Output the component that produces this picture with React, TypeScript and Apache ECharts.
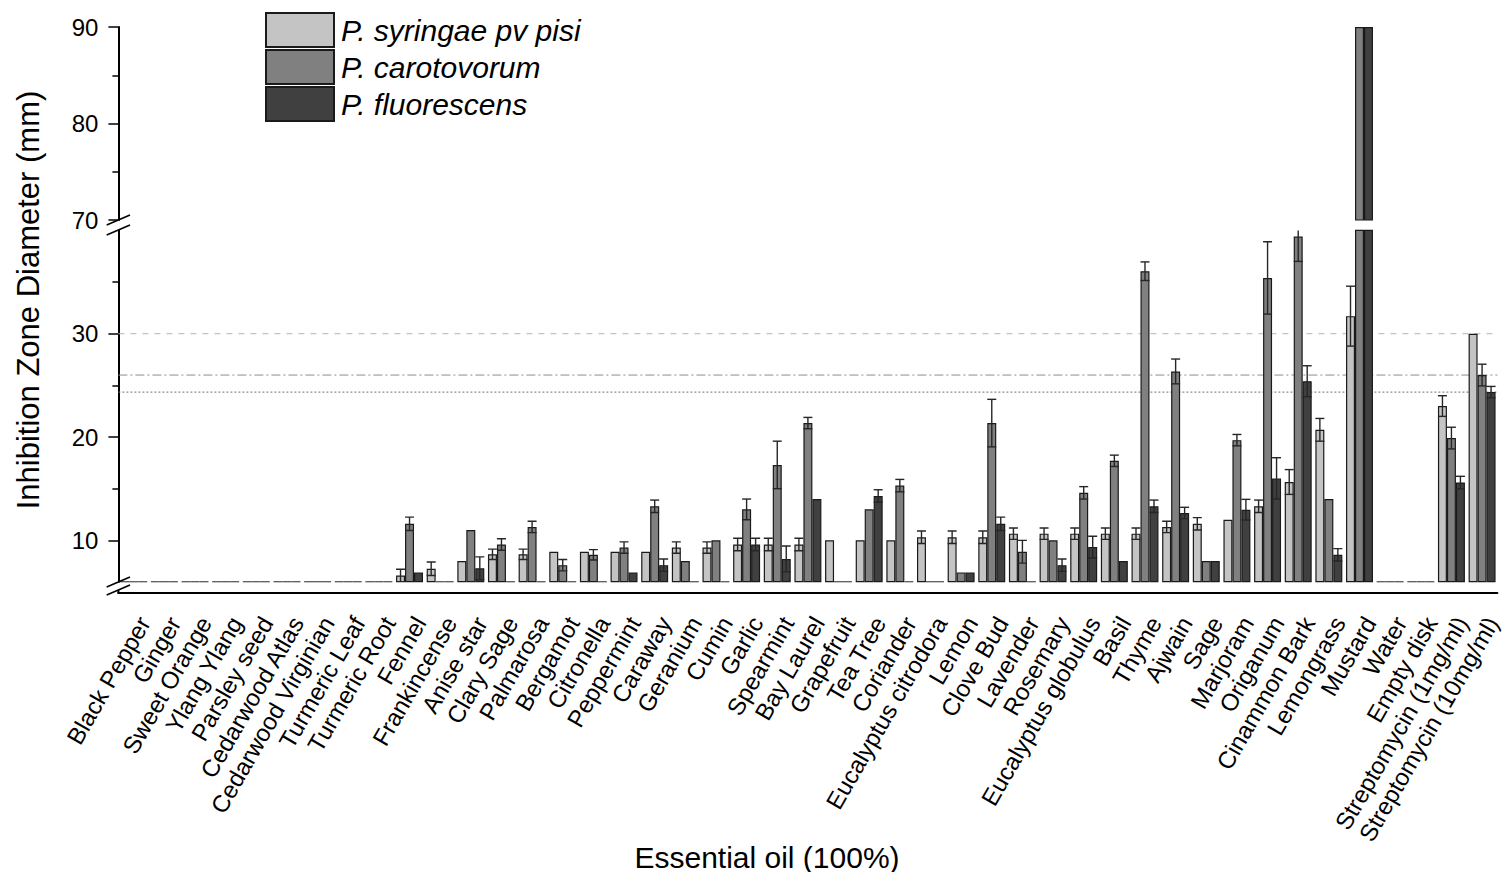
import React, { useEffect, useRef } from 'react';
import * as echarts from 'echarts';

const FONT = '"Liberation Sans", Arial, Helvetica, sans-serif';

const OILS = [
  'Black Pepper', 'Ginger', 'Sweet Orange', 'Ylang Ylang', 'Parsley seed',
  'Cedarwood Atlas', 'Cedarwood Virginian', 'Turmeric Leaf', 'Turmeric Root', 'Fennel',
  'Frankincense', 'Anise star', 'Clary Sage', 'Palmarosa', 'Bergamot',
  'Citronella', 'Peppermint', 'Caraway', 'Geranium', 'Cumin',
  'Garlic', 'Spearmint', 'Bay Laurel', 'Grapefruit', 'Tea Tree',
  'Coriander', 'Eucalyptus citrodora', 'Lemon', 'Clove Bud', 'Lavender',
  'Rosemary', 'Eucalyptus globulus', 'Basil', 'Thyme', 'Ajwain',
  'Sage', 'Marjoram', 'Origanum', 'Cinammon Bark', 'Lemongrass',
  'Mustard', 'Water', 'Empty disk', 'Streptomycin (1mg/ml)', 'Streptomycin (10mg/ml)',
];

const SPECIES = ['P. syringae pv pisi', 'P. carotovorum', 'P. fluorescens'];
const COLORS = ['#c4c4c4', '#808080', '#404040'];

// Mean inhibition zone diameters (mm); 6 mm = disk only, no inhibition
const PISI_MEAN = [
  6, 6, 6, 6, 6, 6, 6, 6, 6, 6.6,
  7.25, 8.0, 8.65, 8.65, 8.9, 8.9, 8.9, 8.9, 9.3, 9.3,
  9.6, 9.6, 9.6, 10.0, 10.0, 10.0, 10.3, 10.3, 10.3, 10.65,
  10.65, 10.65, 10.65, 10.65, 11.3, 11.6, 12.0, 13.3, 15.65, 20.7,
  31.7, 6, 6, 23.0, 30.0,
];
const PISI_SD = [
  0, 0, 0, 0, 0, 0, 0, 0, 0, 0.6,
  0.65, 0, 0.5, 0.5, 0, 0, 0, 0, 0.55, 0.55,
  0.6, 0.6, 0.6, 0, 0, 0, 0.6, 0.6, 0.6, 0.55,
  0.55, 0.55, 0.55, 0.55, 0.55, 0.6, 0, 0.6, 1.2, 1.1,
  2.9, 0, 0, 1.0, 0,
];
const CARO_MEAN = [
  6, 6, 6, 6, 6, 6, 6, 6, 6, 11.6,
  6, 11.0, 9.6, 11.3, 7.6, 8.6, 9.3, 13.3, 8.0, 10.0,
  13.0, 17.3, 21.35, 6, 13.0, 15.3, 6, 6.9, 21.35, 8.9,
  10.0, 14.6, 17.7, 36.05, 26.35, 8.0, 19.7, 35.4, 39.4, 14.0,
  90, 6, 6, 19.9, 26.0,
];
const CARO_SD = [
  0, 0, 0, 0, 0, 0, 0, 0, 0, 0.65,
  0, 0, 0.55, 0.55, 0.55, 0.5, 0.55, 0.6, 0, 0,
  1.0, 2.3, 0.55, 0, 0, 0.6, 0, 0, 2.3, 1.1,
  0, 0.6, 0.55, 0.9, 1.2, 0, 0.55, 3.5, 2.4, 0,
  0, 0, 0, 1.05, 1.05,
];
const FLUO_MEAN = [
  6, 6, 6, 6, 6, 6, 6, 6, 6, 6.9,
  6, 7.3, 6, 6, 6, 6, 6.9, 7.6, 6, 6,
  9.6, 8.2, 14.0, 6, 14.3, 6, 6, 6.9, 11.6, 6,
  7.6, 9.35, 8.0, 13.3, 12.65, 8.0, 12.97, 16.0, 25.4, 8.6,
  90, 6, 6, 15.6, 24.35,
];
const FLUO_SD = [
  0, 0, 0, 0, 0, 0, 0, 0, 0, 0,
  0, 1.1, 0, 0, 0, 0, 0, 0.6, 0, 0,
  0.6, 1.25, 0, 0, 0.6, 0, 0, 0, 0.65, 0,
  0.6, 1.05, 0, 0.6, 0.55, 0, 1.0, 2.0, 1.5, 0.6,
  0, 0, 0, 0.6, 0.55,
];

const MEANS = [PISI_MEAN, CARO_MEAN, FLUO_MEAN];
const SDS = [PISI_SD, CARO_SD, FLUO_SD];

// Broken value axis: lower segment and upper segment
const LOWER_MIN = 6;
const LOWER_MAX = 40;
const UPPER_MIN = 70;
const UPPER_MAX = 90;
const LOWER_MAJOR = [10, 20, 30];
const LOWER_MINOR = [15, 25, 35];

// Reference lines at the Streptomycin (10mg/ml) zones
const REF_INDEX = OILS.length - 1;
const REF_DASH = [[6, 6], [9, 3, 2, 3], [2, 2]];
const REF_COLORS = ['#b4b4b4', '#8c8c8c', '#6e6e6e'];

const CAT_GAP = 0.12;
const GRID_LEFT = 118.4;
const GRID_WIDTH = 1379;

function slotGeometry(api: any, i: number, m: number, k: number) {
  const band = api.size([1, 0])[0];
  const bw = (band * (1 - CAT_GAP)) / 3;
  const cx = api.coord([i, m])[0] + (k - 1) * bw;
  return { bw, cx };
}

function buildOption() {
  const barBase = {
    type: 'bar',
    barGap: '0%',
    barCategoryGap: `${CAT_GAP * 100}%`,
    z: 2,
    clip: true,
  };

  const lowerBars = SPECIES.map((name, k) => ({
    ...barBase,
    name,
    xAxisIndex: 1,
    yAxisIndex: 1,
    data: MEANS[k],
    itemStyle: { color: COLORS[k], borderColor: '#1a1a1a', borderWidth: 1.2 },
  }));

  const upperBars = SPECIES.map((name, k) => ({
    ...barBase,
    name,
    xAxisIndex: 0,
    yAxisIndex: 0,
    data: MEANS[k].map((v) => (v > UPPER_MIN ? v : '-')),
    itemStyle: { color: COLORS[k], borderColor: '#1a1a1a', borderWidth: 1.2 },
  }));

  // Disk-only results (no inhibition) show as a flat mark on the baseline
  const baseMarks = SPECIES.map((name, k) => ({
    type: 'custom',
    name: `${name} base`,
    xAxisIndex: 1,
    yAxisIndex: 1,
    z: 4,
    encode: { x: 0, y: 1 },
    data: MEANS[k].map((m, i) => [i, m]).filter((d) => d[1] <= LOWER_MIN),
    renderItem: (params: any, api: any) => {
      const i = api.value(0);
      const m = api.value(1);
      const { bw, cx } = slotGeometry(api, i, m, k);
      const y = api.coord([i, m])[1];
      return {
        type: 'line',
        shape: { x1: cx - bw / 2, y1: y, x2: cx + bw / 2, y2: y },
        style: { stroke: '#5a5a5a', lineWidth: 1.3, fill: null },
      };
    },
  }));

  const errorBars = SPECIES.map((name, k) => ({
    type: 'custom',
    name: `${name} SD`,
    xAxisIndex: 1,
    yAxisIndex: 1,
    z: 5,
    clip: true,
    encode: { x: 0, y: 1 },
    data: MEANS[k]
      .map((m, i) => [i, m, SDS[k][i]])
      .filter((d) => d[2] > 0),
    renderItem: (params: any, api: any) => {
      const i = api.value(0);
      const m = api.value(1);
      const sd = api.value(2);
      const { bw, cx } = slotGeometry(api, i, m, k);
      const yHi = api.coord([i, m + sd])[1];
      const yLo = api.coord([i, Math.max(m - sd, LOWER_MIN)])[1];
      const half = bw / 2;
      const style = { stroke: '#262626', lineWidth: 1.4, fill: null };
      return {
        type: 'group',
        children: [
          { type: 'line', shape: { x1: cx, y1: yHi, x2: cx, y2: yLo }, style },
          { type: 'line', shape: { x1: cx - half, y1: yHi, x2: cx + half, y2: yHi }, style },
          { type: 'line', shape: { x1: cx - half, y1: yLo, x2: cx + half, y2: yLo }, style },
        ],
      };
    },
  }));

  const refLines = {
    type: 'custom',
    name: 'reference',
    xAxisIndex: 1,
    yAxisIndex: 1,
    z: 1,
    encode: { x: 0, y: 1 },
    data: MEANS.map((arr, k) => [0, arr[REF_INDEX], k]),
    renderItem: (params: any, api: any) => {
      const cs = params.coordSys;
      const y = api.coord([0, api.value(1)])[1];
      const k = api.value(2);
      return {
        type: 'line',
        shape: { x1: cs.x, y1: y, x2: cs.x + cs.width, y2: y },
        style: { stroke: REF_COLORS[k], lineWidth: 1, lineDash: REF_DASH[k], fill: null },
      };
    },
  };

  const axisLineStyle = { color: '#000', width: 2 };
  const tickLabel = { color: '#000', fontSize: 24, fontFamily: FONT };

  const brk = (x1: number, y1: number, x2: number, y2: number) => ({
    type: 'line',
    shape: { x1, y1, x2, y2 },
    style: { stroke: '#000', lineWidth: 1.6 },
    z: 10,
  });

  return {
    animation: false,
    backgroundColor: '#fff',
    textStyle: { fontFamily: FONT },
    legend: {
      data: SPECIES,
      orient: 'vertical',
      left: 260,
      top: 7,
      itemWidth: 68,
      itemHeight: 34,
      itemGap: 1,
      icon: 'rect',
      textStyle: {
        color: '#000',
        fontSize: 30,
        lineHeight: 34,
        fontStyle: 'italic',
        fontFamily: FONT,
        padding: [0, 0, 0, 2],
      },
      selectedMode: false,
    },
    grid: [
      { left: GRID_LEFT, width: GRID_WIDTH, top: 27, height: 193 },
      { left: GRID_LEFT, width: GRID_WIDTH, top: 230.4, height: 351.3 },
    ],
    xAxis: [
      { type: 'category', gridIndex: 0, data: OILS, show: false },
      {
        type: 'category',
        gridIndex: 1,
        data: OILS,
        position: 'bottom',
        offset: 11,
        axisLine: { lineStyle: axisLineStyle },
        axisTick: { alignWithLabel: true, length: 8, interval: 0, lineStyle: { color: '#000', width: 1.5 } },
        axisLabel: {
          interval: 0,
          rotate: 60,
          fontSize: 24,
          color: '#000',
          fontFamily: FONT,
          margin: 20,
          verticalAlign: 'top',
        },
      },
      {
        type: 'category',
        gridIndex: 1,
        data: OILS,
        position: 'bottom',
        offset: 11,
        axisLine: { show: false },
        axisTick: { length: 8, interval: 0, lineStyle: { color: '#000', width: 1.5 } },
        axisLabel: { show: false },
      },
    ],
    yAxis: [
      {
        type: 'value',
        gridIndex: 0,
        min: UPPER_MIN,
        max: UPPER_MAX,
        interval: 10,
        position: 'left',
        axisLine: { show: true, lineStyle: axisLineStyle },
        axisTick: { show: true, length: 10, lineStyle: { color: '#000', width: 1.5 } },
        minorTick: { show: true, splitNumber: 2, length: 6, lineStyle: { color: '#000', width: 1.5 } },
        axisLabel: { ...tickLabel, margin: 20 },
        splitLine: { show: false },
      },
      {
        type: 'value',
        gridIndex: 1,
        min: LOWER_MIN,
        max: LOWER_MAX,
        position: 'left',
        axisLine: { show: true, lineStyle: axisLineStyle },
        axisTick: { show: true, length: 10, customValues: LOWER_MAJOR, lineStyle: { color: '#000', width: 1.5 } },
        axisLabel: { ...tickLabel, margin: 20, customValues: LOWER_MAJOR },
        splitLine: { show: false },
      },
      {
        type: 'value',
        gridIndex: 1,
        min: LOWER_MIN,
        max: LOWER_MAX,
        position: 'left',
        axisLine: { show: false },
        axisTick: { show: true, length: 6, customValues: LOWER_MINOR, lineStyle: { color: '#000', width: 1.5 } },
        axisLabel: { show: false },
        splitLine: { show: false },
      },
    ],
    graphic: [
      {
        type: 'text',
        x: 28,
        y: 300,
        rotation: Math.PI / 2,
        style: {
          text: 'Inhibition Zone Diameter (mm)',
          font: `31px ${FONT}`,
          fill: '#000',
          textAlign: 'center',
          textVerticalAlign: 'middle',
        },
      },
      {
        type: 'text',
        x: 767,
        y: 857,
        style: {
          text: 'Essential oil (100%)',
          font: `30px ${FONT}`,
          fill: '#000',
          textAlign: 'center',
          textVerticalAlign: 'middle',
        },
      },
      // axis breaks
      brk(106.7, 225, 130, 215),
      brk(106.7, 235, 130, 225),
      brk(106.7, 587, 130, 577),
      brk(106.7, 595, 130, 585),
      {
        type: 'line',
        shape: { x1: GRID_LEFT, y1: 590, x2: GRID_LEFT, y2: 593.7 },
        style: { stroke: '#000', lineWidth: 2 },
      },
    ],
    series: [refLines, ...upperBars, ...lowerBars, ...baseMarks, ...errorBars],
  };
}

export default function App() {
  const ref = useRef<HTMLDivElement>(null);
  useEffect(() => {
    const chart = echarts.init(ref.current!, null, { renderer: 'svg' });
    chart.setOption(buildOption() as any);
    return () => chart.dispose();
  }, []);
  return (
    <div
      ref={ref}
      style={{ position: 'absolute', left: 0, top: 0, width: 1508, height: 872, background: '#fff' }}
    />
  );
}
